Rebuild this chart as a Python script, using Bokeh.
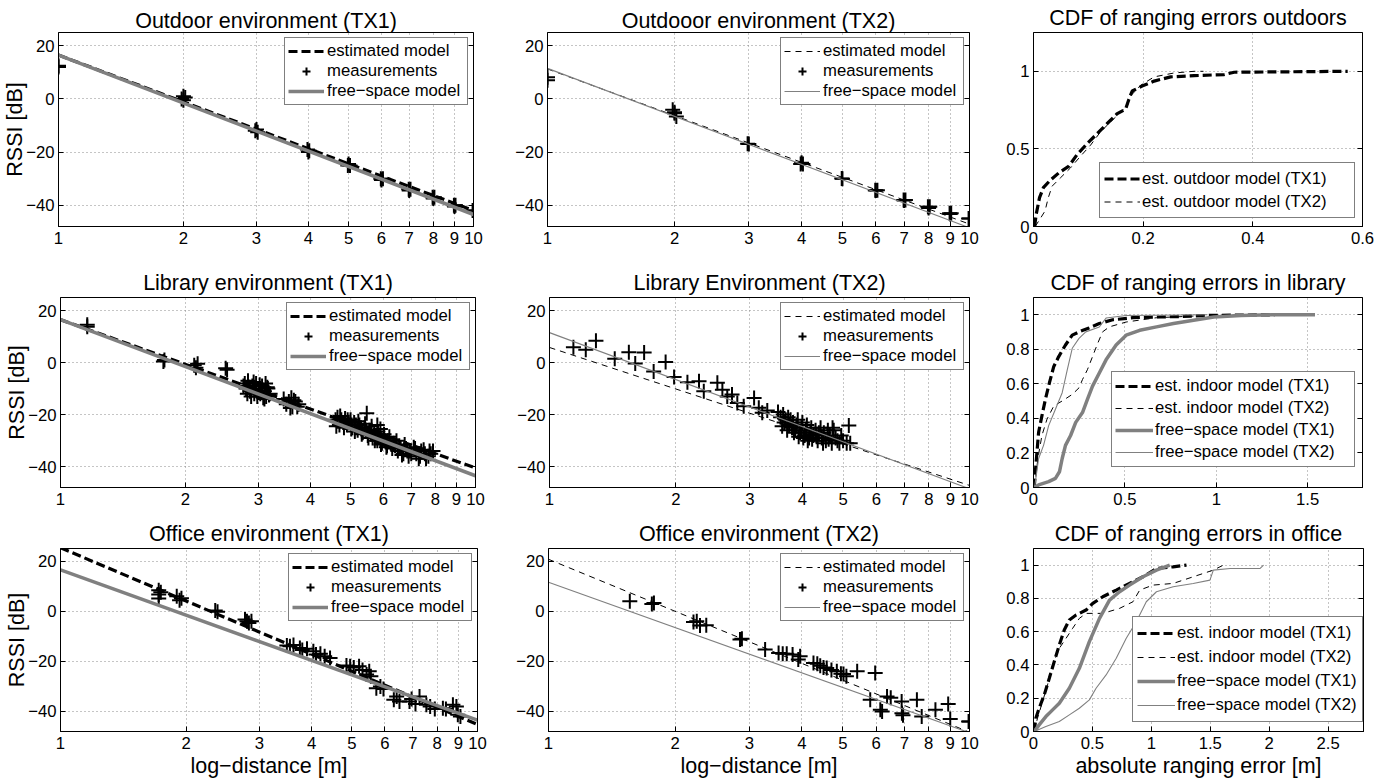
import math

from bokeh.plotting import figure
from bokeh.layouts import column, row
from bokeh.models import (FixedTicker, CustomJSTickFormatter, Legend, LegendItem,
                          LinearAxis, Range1d)
from bokeh.embed import file_html
from bokeh.resources import INLINE

FONT = "Liberation Sans"
GRAY = "#808080"

# ---------------------------------------------------------------- models
# log-distance path-loss models: RSSI = a - b * log10(d)
LINE_D = [1.0, 10.0]
out_tx1_est = (16.5, 58.5)
out_tx1_fs = (16.5, 60.0)
out_tx2_est = (11.3, 58.4)
out_tx2_fs = (11.5, 60.0)
lib_tx1_est = (16.5, 57.0)
lib_tx2_est = (5.8, 53.0)
off_tx1_est = (25.3, 70.5)
off_tx2_est = (20.7, 69.0)

# ---------------------------------------------------------------- measurements
out1_d = [1.0, 1.0, 1.98, 2.0, 2.02, 2.0, 2.98, 3.0, 3.02, 3.98, 4.0, 4.02, 4.98, 5.0,
          5.04, 5.98, 6.0, 6.05, 6.98, 7.0, 7.05, 7.97, 8.0, 8.05, 8.97, 9.0, 9.05, 9.95, 10.0]
out1_rssi = [12.0, 12.5, 0.0, 1.0, 0.5, -0.5, -12.0, -11.5, -12.5, -19.0, -20.0, -19.5, -25.0,
             -24.5, -25.0, -30.0, -30.5, -30.0, -34.0, -34.5, -34.0, -37.0, -37.5, -37.0,
             -40.0, -40.5, -40.0, -42.0, -42.0]

out2_d = [1.0, 1.0, 1.98, 2.0, 2.02, 2.0, 2.98, 3.0, 3.98, 4.0, 4.03, 4.98, 5.0, 5.98, 6.0,
          6.05, 6.98, 7.0, 7.05, 7.97, 8.0, 8.05, 8.97, 9.0, 9.05, 9.95, 10.0]
out2_rssi = [8.2, 7.0, -4.1, -5.4, -6.6, -5.0, -16.9, -17.0, -24.5, -24.0, -24.5, -29.9, -30.0,
             -34.4, -34.5, -34.4, -38.0, -38.2, -38.0, -40.6, -41.0, -40.6, -43.0, -43.3,
             -43.0, -45.0, -45.0]

lib1_d = [1.16, 1.16, 1.77, 1.78, 2.1, 2.12, 2.14, 2.5, 2.52,
          2.76, 2.78, 2.8, 2.82, 2.83, 2.85, 2.86, 2.88, 2.9, 2.92, 2.93, 2.95, 2.96, 2.98,
          3.0, 3.02, 3.03, 3.05, 3.06, 3.08, 3.1, 3.12, 3.13, 3.15, 3.16, 3.18, 3.2, 3.1,
          3.45, 3.5, 3.55, 3.58, 3.62, 3.65, 3.68, 3.72, 3.75, 3.6,
          4.6, 4.62, 4.65, 4.7, 4.72, 4.75, 4.8, 4.82, 4.85, 4.9, 4.92, 4.95, 5.0, 5.02,
          5.05, 5.1, 5.12, 5.15, 5.2, 5.22, 5.25, 5.3, 5.32, 5.35, 5.4, 5.42, 5.45, 5.5,
          5.52, 5.55, 5.6, 5.62, 5.65, 5.7, 5.72, 5.75, 5.8, 5.82, 5.85, 5.9, 5.92, 5.95,
          6.0, 6.02, 6.05, 6.1, 6.12, 6.15, 6.2, 6.25, 6.3, 6.35, 6.4, 6.45, 6.5, 6.55,
          6.6, 6.65, 6.7, 6.75, 6.8, 6.85, 6.9, 6.95, 7.0, 7.1, 7.15, 7.2, 7.3, 7.35, 7.4,
          7.5, 7.55, 7.6, 7.7, 7.75, 7.8, 7.9,
          5.47, 5.8, 5.9]
lib1_rssi = [13.8, 14.5, 0.4, 1.0, -1.0, -2.0, -0.5, -2.2, -2.8,
             -9.0, -8.0, -10.0, -12.0, -7.0, -9.5, -11.0, -13.0, -9.0, -7.5, -12.0, -10.5,
             -8.0, -13.0, -10.0, -8.5, -12.0, -11.0, -9.0, -13.5, -11.0, -8.0, -13.0, -9.5,
             -10.0, -12.5, -12.0, -14.0,
             -14.0, -16.0, -15.0, -17.5, -17.0, -14.5, -15.0, -17.0, -16.0, -13.5,
             -22.0, -24.5, -21.0, -24.0, -20.5, -22.0, -23.0, -25.0, -21.5, -24.0, -22.0,
             -23.0, -22.0, -25.5, -25.0, -23.0, -26.5, -24.0, -26.0, -22.5, -24.0, -25.0,
             -27.5, -27.0, -25.0, -23.5, -26.0, -28.0, -29.0, -26.0, -27.0, -24.5, -29.0,
             -27.0, -30.0, -28.0, -30.0, -26.5, -28.0, -29.0, -31.5, -31.0, -29.0, -27.5,
             -30.0, -32.5, -32.0, -30.0, -28.5, -31.0, -33.0, -31.0, -32.0, -30.0, -34.0,
             -32.0, -33.0, -35.5, -35.0, -31.5, -33.0, -34.0, -36.0, -34.0, -35.0, -32.5,
             -33.0, -35.0, -37.0, -36.0, -34.0, -33.5, -35.0, -37.0, -36.0, -34.0, -35.0,
             -34.0,
             -19.5, -24.0, -25.5]

lib2_d = [1.14, 1.22, 1.29, 1.43, 1.545, 1.6, 1.68, 1.77, 1.89, 1.98, 2.13, 2.27, 2.33, 2.51,
          2.58, 2.65, 2.72, 2.8, 2.9, 3.07, 3.15, 3.21, 3.3,
          3.5, 3.55, 3.6, 3.62, 3.65, 3.7, 3.72, 3.75, 3.78, 3.8, 3.85, 3.88, 3.9, 3.95, 3.98,
          4.0, 4.05, 4.08, 4.1, 4.15, 4.18, 4.2, 4.25, 4.3, 4.35, 4.38, 4.42, 4.45, 4.5, 4.55,
          4.6, 4.65, 4.7, 4.75, 4.8, 4.85, 4.9, 5.0, 5.1, 5.2, 5.16,
          3.58, 3.68, 3.82, 3.92, 4.02, 4.12, 4.22, 4.32, 4.48, 4.62, 4.72, 4.95]
lib2_rssi = [5.9, 4.9, 8.4, 1.5, 4.0, -0.4, 3.9, -3.4, 0.2, -5.5, -7.6, -7.2, -11.0, -7.8,
             -10.4, -13.0, -12.3, -15.5, -16.8, -13.6, -17.4, -19.3, -18.4,
             -19.0, -21.0, -20.0, -23.0, -22.0, -21.0, -24.0, -22.0, -25.0, -23.0, -26.0,
             -24.0, -22.0, -27.0, -25.0, -23.0, -28.0, -26.0, -24.0, -29.0, -27.0, -25.0,
             -28.0, -26.0, -30.0, -27.0, -25.0, -29.0, -27.0, -30.0, -26.0, -28.0, -31.0,
             -26.0, -29.0, -30.0, -31.0, -30.0, -31.0, -31.0, -24.2,
             -24.5, -26.0, -27.0, -28.5, -29.0, -30.0, -29.5, -28.0, -31.0, -29.5, -25.0,
             -28.0]

off1_d = [1.72, 1.72, 1.72, 1.74, 1.9, 1.93, 1.95, 2.35, 2.38, 2.77, 2.8, 2.83, 2.87, 3.49,
          3.55, 3.62, 3.75, 3.8, 3.9, 4.04, 4.1, 4.2, 4.3, 4.43, 4.85, 4.95, 5.05, 5.2, 5.3,
          5.42, 5.5, 5.55, 5.72, 5.85, 5.95, 6.3, 6.4, 6.5, 6.87, 6.95, 7.1, 7.26, 7.54, 7.7,
          7.9, 8.26, 8.4, 8.73, 8.9, 8.97, 9.1]
off1_rssi = [8.3, 6.7, 5.1, 7.5, 6.0, 4.4, 5.2, 0.3, -0.2, -3.3, -4.0, -4.7, -4.0, -13.7,
             -14.0, -13.5, -14.7, -15.5, -15.0, -16.0, -17.3, -17.0, -18.0, -18.7, -21.7,
             -22.0, -22.5, -22.0, -23.5, -25.3, -24.0, -26.0, -30.7, -30.0, -31.0, -35.3,
             -34.0, -36.0, -36.0, -35.0, -37.0, -34.0, -37.3, -38.0, -39.0, -38.7, -39.0,
             -37.3, -38.0, -41.3, -42.0]

off2_d = [1.56, 1.76, 1.78, 2.21, 2.25, 2.29, 2.37, 2.85, 2.88, 3.27, 3.52, 3.6, 3.68, 3.8,
          3.96, 3.92, 4.26, 4.35, 4.42, 4.5, 4.58, 4.7, 4.84, 4.95, 5.02, 5.1, 5.41, 5.97,
          5.81, 6.14, 6.2, 6.37, 6.5, 6.91, 6.95, 6.9, 7.5, 7.7, 8.3, 8.9, 9.0, 9.95, 10.0]
off2_rssi = [4.0, 2.9, 3.3, -4.3, -4.0, -5.7, -5.6, -11.3, -11.0, -15.3, -16.7, -17.0, -17.0,
             -17.3, -18.0, -19.3, -20.7, -21.0, -21.8, -22.5, -22.7, -23.5, -24.0, -25.0,
             -25.1, -26.0, -24.0, -24.7, -35.3, -39.3, -40.0, -34.0, -34.5, -40.7, -41.5,
             -36.0, -35.3, -42.0, -39.3, -37.0, -43.0, -44.0, -44.0]

# ---------------------------------------------------------------- ranging-error CDFs
cdf_out_tx1_x = [0.002, 0.005, 0.011, 0.018, 0.030, 0.046, 0.064, 0.079, 0.098, 0.116, 0.134,
                 0.152, 0.168, 0.174, 0.180, 0.198, 0.220, 0.250, 0.293, 0.348, 0.366, 0.573]
cdf_out_tx1_y = [0.0, 0.08, 0.186, 0.25, 0.296, 0.345, 0.387, 0.461, 0.535, 0.598, 0.662,
                 0.725, 0.757, 0.82, 0.873, 0.905, 0.937, 0.964, 0.972, 0.979, 0.994, 1.0]
cdf_out_tx2_x = [0.003, 0.012, 0.021, 0.027, 0.034, 0.049, 0.067, 0.085, 0.104, 0.122, 0.140,
                 0.159, 0.171, 0.177, 0.195, 0.220, 0.256, 0.293, 0.31]
cdf_out_tx2_y = [0.0, 0.049, 0.10, 0.186, 0.26, 0.313, 0.376, 0.45, 0.524, 0.609, 0.672,
                 0.736, 0.778, 0.841, 0.909, 0.964, 0.989, 1.0, 1.0]

cdf_lib_est1_x = [0.004, 0.013, 0.028, 0.046, 0.065, 0.087, 0.111, 0.138, 0.175, 0.212, 0.249,
                  0.304, 0.360, 0.433, 0.544, 0.673, 0.804, 0.952, 1.32]
cdf_lib_est1_y = [0.0, 0.13, 0.32, 0.415, 0.51, 0.606, 0.701, 0.758, 0.825, 0.882, 0.901,
                  0.924, 0.949, 0.971, 0.983, 0.987, 0.99, 0.996, 1.0]
cdf_lib_est2_x = [0.006, 0.024, 0.046, 0.074, 0.111, 0.157, 0.212, 0.249, 0.268, 0.295, 0.323,
                  0.351, 0.378, 0.415, 0.507, 0.673, 0.952, 1.32]
cdf_lib_est2_y = [0.0, 0.168, 0.301, 0.396, 0.472, 0.501, 0.539, 0.577, 0.625, 0.682, 0.758,
                  0.834, 0.901, 0.93, 0.958, 0.983, 0.996, 1.0]
cdf_lib_fs1_x = [0.004, 0.028, 0.083, 0.120, 0.142, 0.157, 0.175, 0.203, 0.231, 0.268, 0.295,
                 0.323, 0.360, 0.397, 0.452, 0.507, 0.581, 0.673, 0.766, 0.876, 0.987, 1.135,
                 1.32, 1.54]
cdf_lib_fs1_y = [0.0, 0.015, 0.034, 0.053, 0.091, 0.168, 0.244, 0.301, 0.377, 0.434, 0.51,
                 0.587, 0.663, 0.739, 0.825, 0.882, 0.91, 0.93, 0.949, 0.968, 0.987, 0.996,
                 1.0, 1.0]
cdf_lib_fs2_x = [0.006, 0.028, 0.055, 0.083, 0.12, 0.157, 0.185, 0.212, 0.249, 0.286, 0.36,
                 0.397, 0.507, 0.952]
cdf_lib_fs2_y = [0.0, 0.168, 0.244, 0.358, 0.453, 0.549, 0.682, 0.806, 0.863, 0.901, 0.929,
                 0.981, 0.996, 1.0]

cdf_off_est1_x = [0.006, 0.02, 0.048, 0.091, 0.134, 0.176, 0.219, 0.261, 0.304, 0.361, 0.446,
                  0.503, 0.588, 0.702, 0.815, 0.929, 1.043, 1.185, 1.298]
cdf_off_est1_y = [0.0, 0.08, 0.14, 0.22, 0.32, 0.42, 0.52, 0.61, 0.67, 0.70, 0.73, 0.77, 0.81,
                  0.85, 0.89, 0.93, 0.98, 0.99, 1.0]
cdf_off_est2_x = [0.006, 0.034, 0.077, 0.119, 0.162, 0.219, 0.276, 0.332, 0.389, 0.446, 0.588,
                  0.730, 0.844, 0.901, 1.014, 1.185, 1.355, 1.526, 1.611]
cdf_off_est2_y = [0.0, 0.08, 0.18, 0.28, 0.40, 0.50, 0.56, 0.62, 0.68, 0.71, 0.71, 0.74, 0.78,
                  0.85, 0.88, 0.89, 0.93, 0.97, 1.0]
cdf_off_fs1_x = [0.006, 0.048, 0.105, 0.162, 0.219, 0.304, 0.389, 0.474, 0.560, 0.645, 0.730,
                 0.815, 0.929, 1.043, 1.156]
cdf_off_fs1_y = [0.0, 0.04, 0.09, 0.13, 0.17, 0.26, 0.38, 0.54, 0.68, 0.79, 0.84, 0.88, 0.93,
                 0.97, 1.0]
cdf_off_fs2_x = [0.006, 0.105, 0.219, 0.304, 0.389, 0.474, 0.531, 0.616, 0.702, 0.787, 0.872,
                 0.957, 1.043, 1.185, 1.355, 1.497, 1.526, 1.668, 1.923, 1.952]
cdf_off_fs2_y = [0.0, 0.03, 0.06, 0.10, 0.14, 0.19, 0.26, 0.34, 0.44, 0.56, 0.66, 0.78, 0.84,
                 0.87, 0.89, 0.91, 0.97, 0.98, 0.98, 1.0]

# ---------------------------------------------------------------- axes setup
DIST_TICKS = [1, 2, 3, 4, 5, 6, 7, 8, 9, 10]
RSSI_TICKS = [-40, -20, 0, 20]
RSSI_RANGE = (-48, 25)
FMT = "return tick < 0 ? '\\u2212' + (-tick) : '' + tick;"
TICK_SIZE = "16.7px"
LABEL_SIZE = "21.5px"
LEGEND_SIZE = "16.7px"


def style_axis(ax, ticks, labels=True, standoff=5):
    ax.ticker = FixedTicker(ticks=ticks)
    ax.formatter = CustomJSTickFormatter(code=FMT)
    ax.axis_line_color = "black"
    ax.axis_line_width = 1
    ax.major_tick_line_color = "black"
    ax.major_tick_in = 5
    ax.major_tick_out = 0
    ax.minor_tick_line_color = None
    ax.major_label_text_font = FONT
    if labels:
        ax.major_label_text_color = "black"
        ax.major_label_text_font_size = TICK_SIZE
        ax.major_label_standoff = standoff
    else:
        # mirrored box axis: tick marks only
        ax.major_label_text_color = None
        ax.major_label_text_font_size = "1px"
        ax.major_label_standoff = 0
    ax.axis_label_text_font = FONT
    ax.axis_label_text_font_size = LABEL_SIZE
    ax.axis_label_text_font_style = "normal"
    ax.axis_label_text_color = "black"
    ax.axis_label_standoff = 2


def panel(title, geom, xr, xticks, yr, yticks, log_x, xlabel=None, ylabel=None):
    W, H, L, R, T, B, title_gap = geom
    p = figure(width=W, height=H, x_axis_type="log" if log_x else "linear",
               x_range=Range1d(*xr), y_range=Range1d(*yr),
               output_backend="svg", toolbar_location=None,
               min_border_left=L, min_border_right=R,
               min_border_top=T, min_border_bottom=B)
    p.title.text = title
    p.title.text_font = FONT
    p.title.text_font_size = LABEL_SIZE
    p.title.text_font_style = "normal"
    p.title.text_color = "black"
    p.title.align = "center"
    p.title.standoff = title_gap
    p.outline_line_color = "black"
    p.background_fill_color = "white"
    p.border_fill_color = "white"

    style_axis(p.xaxis[0], xticks, standoff=5)
    style_axis(p.yaxis[0], yticks, standoff=4)
    if xlabel:
        p.xaxis[0].axis_label = xlabel
    if ylabel:
        p.yaxis[0].axis_label = ylabel
        p.yaxis[0].axis_label_standoff = -4

    right = LinearAxis()
    style_axis(right, yticks, labels=False)
    p.add_layout(right, "right")

    p.grid.grid_line_color = "#8a8a8a"
    p.grid.grid_line_dash = "1 3"
    p.grid.grid_line_width = 1
    return p


def add_legend(p, entries, location, padding, row_h, glyph_w, label_w, standoff, margin=0):
    lg = Legend(items=[LegendItem(label=t, renderers=[r]) for t, r in entries],
                location=location, margin=margin, padding=padding, spacing=0,
                glyph_width=glyph_w, glyph_height=row_h, label_height=row_h,
                label_width=label_w, label_standoff=standoff,
                border_line_color="black", border_line_width=1,
                background_fill_color="white", background_fill_alpha=1.0,
                label_text_font=FONT, label_text_font_size=LEGEND_SIZE,
                label_text_color="black")
    p.add_layout(lg)


def model_y(model):
    a, b = model
    return [a - b * math.log10(d) for d in LINE_D]


def distance_panel(title, geom, meas_d, meas_rssi, est, fs, thick, xlabel=None, ylabel=None):
    p = panel(title, geom, (1, 10), DIST_TICKS, RSSI_RANGE, RSSI_TICKS, True,
              xlabel=xlabel, ylabel=ylabel)
    if thick:
        r_est = p.line(LINE_D, model_y(est), line_color="black", line_width=3.2, line_dash="9 4")
    else:
        r_est = p.line(LINE_D, model_y(est), line_color="black", line_width=1, line_dash="6 5")
    r_meas = p.scatter(meas_d, meas_rssi, marker="cross", size=15, line_color="black",
                       line_width=2)
    r_fs = p.line(LINE_D, model_y(fs), line_color=GRAY, line_width=3.5 if thick else 1.1)
    add_legend(p, [("estimated model", r_est), ("measurements", r_meas),
                   ("free\u2212space model", r_fs)], "top_right",
               padding=3, row_h=20, glyph_w=36, label_w=137, standoff=3, margin=5)
    return p


def cdf_panel(title, geom, xr, xticks, yr, yticks, curves, legend, xlabel=None):
    p = panel(title, geom, xr, xticks, yr, yticks, False, xlabel=xlabel)
    styles = {
        "est1": dict(line_color="black", line_width=3.2, line_dash="9 4"),
        "est2": dict(line_color="black", line_width=1, line_dash="6 5"),
        "fs1": dict(line_color=GRAY, line_width=3.5),
        "fs2": dict(line_color=GRAY, line_width=1.1),
    }
    entries = []
    for label, kind, xs, ys in curves:
        r = p.line(xs, ys, **styles[kind])
        entries.append((label, r))
    loc, padding, row_h, glyph_w, label_w = legend
    add_legend(p, entries, loc, padding=padding, row_h=row_h, glyph_w=glyph_w,
               label_w=label_w, standoff=2)
    return p


# geometry: width, height, border left/right/top/bottom, title standoff
# ---------------------------------------------------------------- row 1: outdoor
f11 = distance_panel("Outdoor environment (TX1)", (510, 255, 57, 37, 29, 29, 0),
                     out1_d, out1_rssi, out_tx1_est, out_tx1_fs, True, ylabel="RSSI [dB]")
f12 = distance_panel("Outdooor environment (TX2)", (490, 255, 37, 31, 29, 29, 0),
                     out2_d, out2_rssi, out_tx2_est, out_tx2_fs, False)
f13 = cdf_panel("CDF of ranging errors outdoors", (400, 255, 33, 38, 32, 26, 5),
                (0, 0.6), [0, 0.2, 0.4, 0.6], (0, 1.25), [0, 0.5, 1],
                [("est. outdoor model (TX1)", "est1", cdf_out_tx1_x, cdf_out_tx1_y),
                 ("est. outdoor model (TX2)", "est2", cdf_out_tx2_x, cdf_out_tx2_y)],
                ((66, 8), 4, 23, 36, 208))

# ---------------------------------------------------------------- row 2: library
f21 = distance_panel("Library environment (TX1)", (510, 259, 60, 35, 42, 27, 6),
                     lib1_d, lib1_rssi, lib_tx1_est, out_tx1_fs, True, ylabel="RSSI [dB]")
f22 = distance_panel("Library Environment (TX2)", (490, 259, 39, 31, 42, 25, 6),
                     lib2_d, lib2_rssi, lib_tx2_est, out_tx2_fs, False)
CDF_CURVES_LIB = [
    ("est. indoor model (TX1)", "est1", cdf_lib_est1_x, cdf_lib_est1_y),
    ("est. indoor model (TX2)", "est2", cdf_lib_est2_x, cdf_lib_est2_y),
    ("free\u2212space model (TX1)", "fs1", cdf_lib_fs1_x, cdf_lib_fs1_y),
    ("free\u2212space model (TX2)", "fs2", cdf_lib_fs2_x, cdf_lib_fs2_y),
]
f23 = cdf_panel("CDF of ranging errors in library", (400, 259, 33, 38, 42, 25, 6),
                (0, 1.8), [0, 0.5, 1, 1.5], (0, 1.1), [0, 0.2, 0.4, 0.6, 0.8, 1],
                CDF_CURVES_LIB, ((78, 20), 3, 22, 38, 196))

# ---------------------------------------------------------------- row 3: office
f31 = distance_panel("Office environment (TX1)", (510, 267, 60, 33, 34, 50, 6),
                     off1_d, off1_rssi, off_tx1_est, out_tx1_fs, True,
                     xlabel="log\u2212distance [m]", ylabel="RSSI [dB]")
f32 = distance_panel("Office environment (TX2)", (490, 267, 38, 31, 34, 50, 6),
                     off2_d, off2_rssi, off_tx2_est, out_tx2_fs, False,
                     xlabel="log\u2212distance [m]")
CDF_CURVES_OFF = [
    ("est. indoor model (TX1)", "est1", cdf_off_est1_x, cdf_off_est1_y),
    ("est. indoor model (TX2)", "est2", cdf_off_est2_x, cdf_off_est2_y),
    ("free\u2212space model (TX1)", "fs1", cdf_off_fs1_x, cdf_off_fs1_y),
    ("free\u2212space model (TX2)", "fs2", cdf_off_fs2_x, cdf_off_fs2_y),
]
f33 = cdf_panel("CDF of ranging errors in office", (400, 267, 33, 37, 34, 49, 6),
                (0, 2.8), [0, 0.5, 1, 1.5, 2, 2.5], (0, 1.1), [0, 0.2, 0.4, 0.6, 0.8, 1],
                CDF_CURVES_OFF, ((99, 9), 4, 24, 38, 181),
                xlabel="absolute ranging error [m]")

layout = column(row(f11, f12, f13, spacing=0), row(f21, f22, f23, spacing=0),
                row(f31, f32, f33, spacing=0), spacing=0)

open("out.html", "w").write(file_html(layout, INLINE))
